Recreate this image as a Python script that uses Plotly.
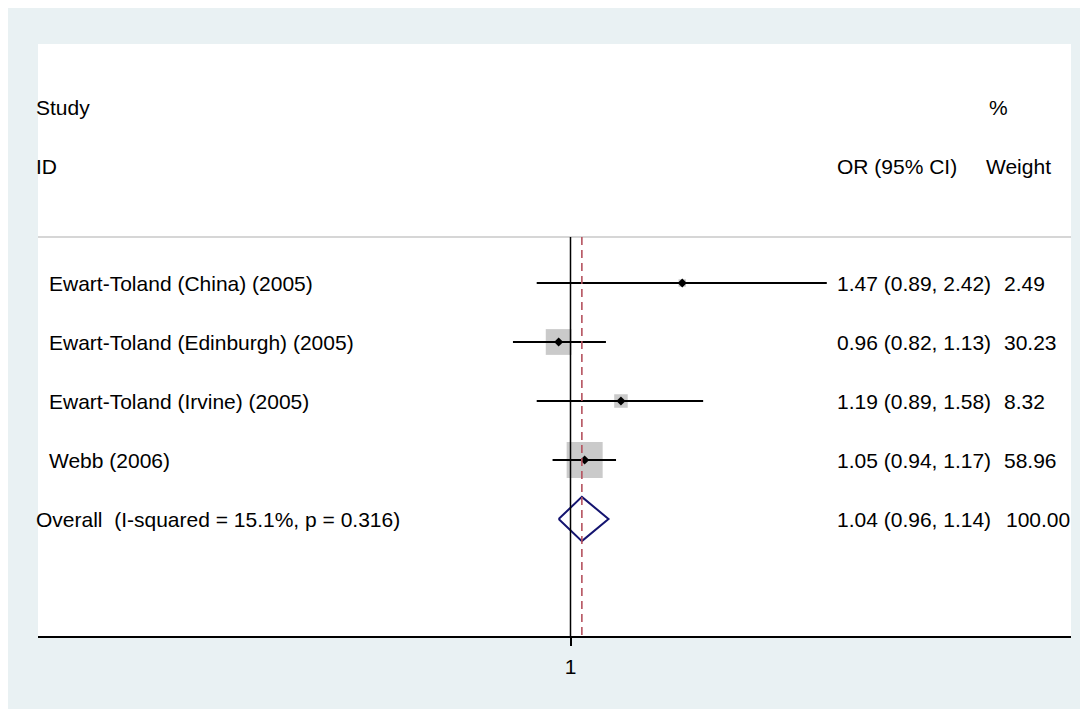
import numpy as np
import plotly.graph_objects as go

studies = ["Ewart-Toland (China) (2005)", "Ewart-Toland (Edinburgh) (2005)",
           "Ewart-Toland (Irvine) (2005)", "Webb (2006)"]
or_est = [1.47, 0.96, 1.19, 1.05]
ci_lo = [0.89, 0.82, 0.89, 0.94]
ci_hi = [2.42, 1.13, 1.58, 1.17]
weights = [2.49, 30.23, 8.32, 58.96]
overall_label = "Overall  (I-squared = 15.1%, p = 0.316)"
overall_est = 1.04
overall_lo = 0.96
overall_hi = 1.14
overall_weight = 100.00

OFF = 8  # page body margin
W, H = 1088, 709
# plot area in screen pixels: x 38..1071, y 44..636
ML, MT = 38 - OFF, 44 - OFF
MR, MB = W - (1071 - OFF), H - (636 - OFF)
PW = W - ML - MR
FONT = "Liberation Sans, Arial, sans-serif"
FS = 21

rows = list(range(len(studies)))
ov_row = len(studies)
y_top, y_bot = -4.051, 5.983
hdr_line = -0.78

fig = go.Figure()

xs, ys = [], []
for i in rows:
    xs += [ci_lo[i], ci_hi[i], None]
    ys += [i, i, None]

wmax = max(weights)
sizes = [36 * np.sqrt(w / wmax) for w in weights]
fig.add_trace(go.Scatter(x=or_est, y=rows, mode="markers",
                         marker=dict(symbol="square", size=sizes, color="#B4B4B4",
                                     line=dict(width=0)),
                         hoverinfo="skip", showlegend=False))
fig.add_trace(go.Scatter(x=xs, y=ys, mode="lines", line=dict(color="black", width=2),
                         hoverinfo="skip", showlegend=False))
fig.add_trace(go.Scatter(x=or_est, y=rows, mode="markers",
                         marker=dict(symbol="diamond", size=7, color="black"),
                         hoverinfo="skip", showlegend=False))
dh = 0.375
fig.add_trace(go.Scatter(x=[overall_lo, overall_est, overall_hi, overall_est, overall_lo],
                         y=[ov_row, ov_row - dh, ov_row, ov_row + dh, ov_row],
                         mode="lines", line=dict(color="#141470", width=2),
                         hoverinfo="skip", showlegend=False))

shapes = [
    dict(type="line", xref="paper", yref="y", x0=0, x1=1, y0=hdr_line, y1=hdr_line,
         line=dict(color="#C8C8C8", width=1.5)),
    dict(type="line", xref="x", yref="y", x0=1, x1=1, y0=hdr_line, y1=y_bot,
         line=dict(color="black", width=1.5)),
    dict(type="line", xref="x", yref="y", x0=overall_est, x1=overall_est, y0=hdr_line, y1=y_bot,
         line=dict(color="#B5525E", width=1.6, dash="8px,5px")),
]

def px(sx):
    # screen x (reference pixel) -> paper fraction, compensating annotation padding
    return (sx - OFF - 3 - ML) / PW

ann = []
def add(text, sx, y):
    ann.append(dict(text=text, x=px(sx), xref="paper", y=y, yref="y", xanchor="left",
                    yanchor="middle", showarrow=False,
                    font=dict(family=FONT, size=FS, color="black")))

add("Study", 37, -2.97)
add("ID", 37, -1.97)
add("OR (95% CI)", 838, -1.97)
add("%", 990, -2.97)
add("Weight", 987, -1.97)
for i in rows:
    add(studies[i], 50, i)
    add(f"{or_est[i]:.2f} ({ci_lo[i]:.2f}, {ci_hi[i]:.2f})", 838, i)
    add(f"{weights[i]:.2f}", 1005, i)
add(overall_label, 37, ov_row)
add(f"{overall_est:.2f} ({overall_lo:.2f}, {overall_hi:.2f})", 838, ov_row)
add(f"{overall_weight:.2f}", 1007, ov_row)

ppd = 290 * np.log(10)
null_sx = 570.5
xr = [-(null_sx - 38) / ppd, (1071 - null_sx) / ppd]

fig.update_layout(
    width=W, height=H, margin=dict(l=ML, r=MR, t=MT, b=MB),
    paper_bgcolor="#E9F1F3", plot_bgcolor="white",
    shapes=shapes, annotations=ann, showlegend=False,
    xaxis=dict(type="log", range=xr, showgrid=False, zeroline=False,
               tickvals=[1], ticktext=["1"], ticks="outside", ticklen=8, tickwidth=1.5,
               tickcolor="black", showline=True, linecolor="black", linewidth=2,
               ticklabelstandoff=3,
               tickfont=dict(family=FONT, size=FS, color="black")),
    yaxis=dict(range=[y_bot, y_top], showgrid=False, zeroline=False, showticklabels=False,
               showline=False, ticks=""),
)

fig.write_html("out.html")
